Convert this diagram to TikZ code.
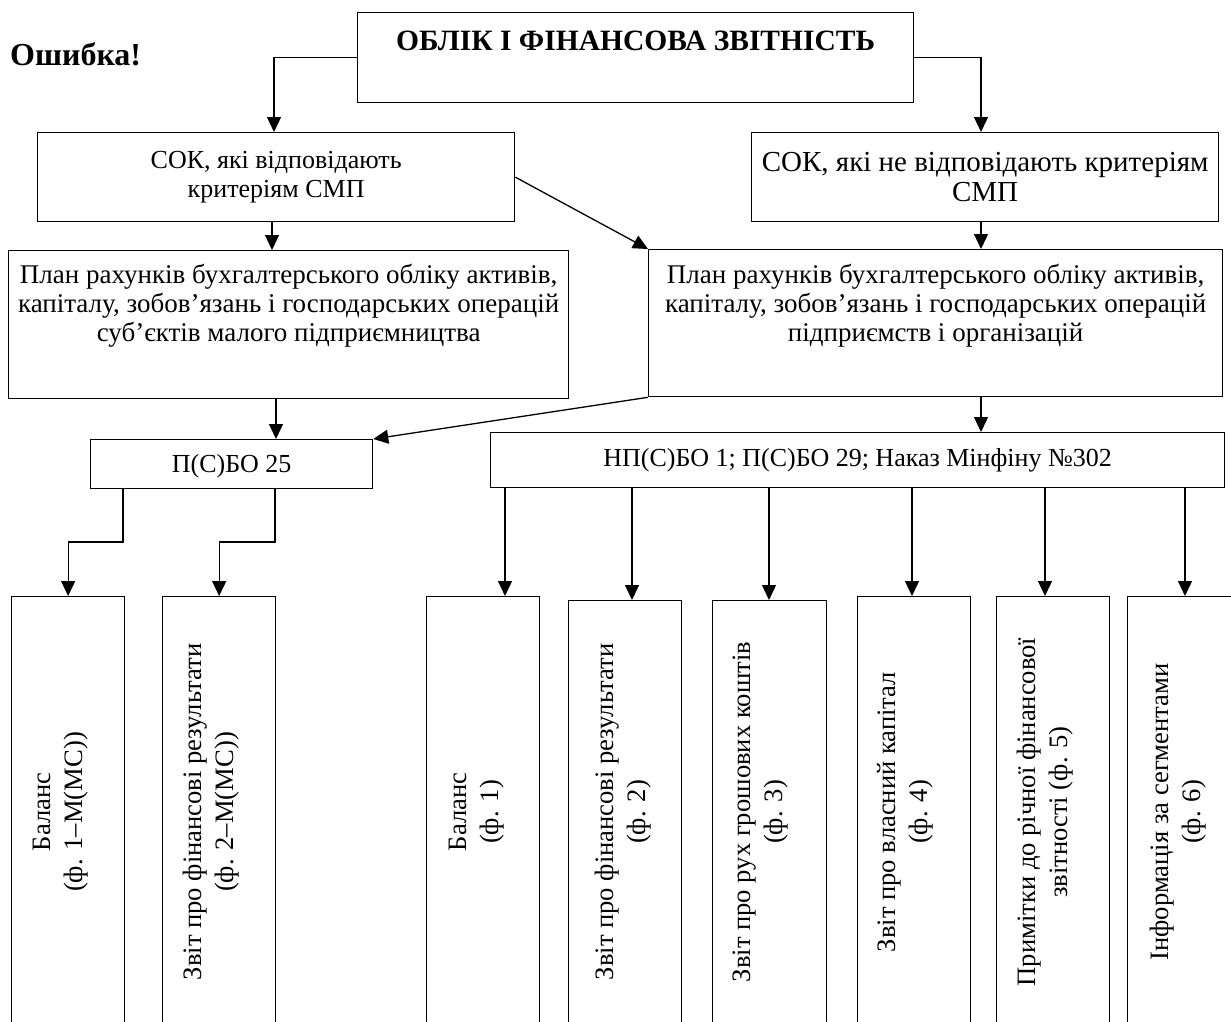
\documentclass[tikz,border=0pt]{standalone}
\usepackage{fontspec}
\setmainfont{Liberation Serif}
\usetikzlibrary{arrows.meta}
\begin{document}
\begin{tikzpicture}[x=1pt,y=-1pt,
  box/.style={draw, line width=1.3pt, inner sep=0pt, anchor=north west},
  txt/.style={font=\fontsize{26}{29}\selectfont, align=center, inner sep=0pt},
  ptxt/.style={font=\fontsize{27}{29}\selectfont, align=center, inner sep=0pt},
  vtxt/.style={font=\fontsize{26.6}{32}\selectfont, align=center, inner sep=0pt, rotate=90},
  arr/.style={line width=1.3pt, -{Triangle[length=15pt,width=14pt]}},
  ln/.style={line width=1.3pt}]
\useasboundingbox (0,0) rectangle (1231,1021);
\clip (0,0) rectangle (1231,1021);

% boxes
\node[box, minimum width=556pt, minimum height=90pt] (title) at (357,12) {};
\node[box, minimum width=477pt, minimum height=89pt] (sokL) at (37,132) {};
\node[box, minimum width=467pt, minimum height=89pt] (sokR) at (751,132) {};
\node[box, minimum width=560pt, minimum height=148pt] (planL) at (8,250) {};
\node[box, minimum width=574pt, minimum height=147pt] (planR) at (648,249) {};
\node[box, minimum width=282pt, minimum height=49pt] (psbo) at (90,439) {};
\node[box, minimum width=734pt, minimum height=55pt] (npsbo) at (490,432) {};

\node[box, minimum width=113pt, minimum height=440pt] (b1) at (11,596) {};
\node[box, minimum width=113pt, minimum height=440pt] (b2) at (162,596) {};
\node[box, minimum width=113pt, minimum height=440pt] (b3) at (426,596) {};
\node[box, minimum width=113pt, minimum height=436pt] (b4) at (568,600) {};
\node[box, minimum width=114pt, minimum height=436pt] (b5) at (712,600) {};
\node[box, minimum width=113pt, minimum height=440pt] (b6) at (857,596) {};
\node[box, minimum width=113pt, minimum height=440pt] (b7) at (996,596) {};
\node[box, minimum width=113pt, minimum height=440pt] (b8) at (1127,596) {};

% texts
\node[anchor=base west, inner sep=0pt, font=\bfseries\fontsize{32}{34}\selectfont] (err) at (10,65) {Ошибка!};
\node[anchor=base, inner sep=0pt, font=\bfseries\fontsize{29.5}{32}\selectfont] (titleT) at (title.north |- 0,50) {ОБЛІК І ФІНАНСОВА ЗВІТНІСТЬ};
\node[txt] (sokLT) at (sokL.center) {СОК, які відповідають\\критеріям СМП};
\node[txt, font=\fontsize{29}{30}\selectfont] (sokRT) at (sokR.center) {СОК, які не відповідають критеріям\\СМП};
\node[ptxt] (planLT) at (planL.north |- 0,306) {План рахунків бухгалтерського обліку активів,\\капіталу, зобов’язань і господарських операцій\\суб’єктів малого підприємництва};
\node[ptxt] (planRT) at (planR.north |- 0,306) {План рахунків бухгалтерського обліку активів,\\капіталу, зобов’язань і господарських операцій\\підприємств і організацій};
\node[txt, anchor=base] (psboT) at (psbo.north |- 0,472) {П(С)БО 25};
\node[txt, anchor=base] (npsboT) at (npsbo.north |- 0,466) {НП(С)БО 1; П(С)БО 29; Наказ Мінфіну №302};

\node[vtxt] (t1) at (60.5,812) {Баланс\\(ф. 1–М(МС))};
\node[vtxt] (t2) at (211.5,812) {Звіт про фінансові результати\\(ф. 2–М(МС))};
\node[vtxt] (t3) at (477,812) {Баланс\\(ф. 1)};
\node[vtxt] (t4) at (623,812) {Звіт про фінансові результати\\(ф. 2)};
\node[vtxt] (t5) at (761,812) {Звіт про рух грошових коштів\\(ф. 3)};
\node[vtxt] (t6) at (905,812) {Звіт про власний капітал\\(ф. 4)};
\node[vtxt] (t7) at (1045,812) {Примітки до річної фінансової\\звітності (ф. 5)};
\node[vtxt] (t8) at (1178,812) {Інформація за сегментами\\(ф. 6)};

% guide coordinates
\coordinate (xL) at (274,0);
\coordinate (xL2) at (272,0);
\coordinate (xR) at (981,0);
\coordinate (xP) at (276,0);
\coordinate (k1) at (123,542);
\coordinate (k2) at (275,542);

% connectors
\draw[arr] (title.west) -| (sokL.north -| xL);
\draw[arr] (title.east) -| (sokR.north -| xR);
\draw[arr] (sokL.south -| xL2) -- (planL.north -| xL2);
\draw[arr] (sokR.south -| xR) -- (planR.north -| xR);
\draw[arr] (sokL.east) -- (planR.north west);
\draw[arr] (planL.south -| xP) -- (psbo.north -| xP);
\draw[arr] (planR.south west) -- (psbo.north east);
\draw[arr] (planR.south -| xR) -- (npsbo.north -| xR);
\draw[arr] (psbo.south -| k1) -- (k1) -| (b1.north);
\draw[arr] (psbo.south -| k2) -- (k2) -| (b2.north);
\foreach \b/\x in {b3/505,b4/632,b5/769,b6/912,b7/1045,b8/1185}
  \draw[arr] (npsbo.south -| \x,0) -- (\b.north -| \x,0);
\end{tikzpicture}
\end{document}
